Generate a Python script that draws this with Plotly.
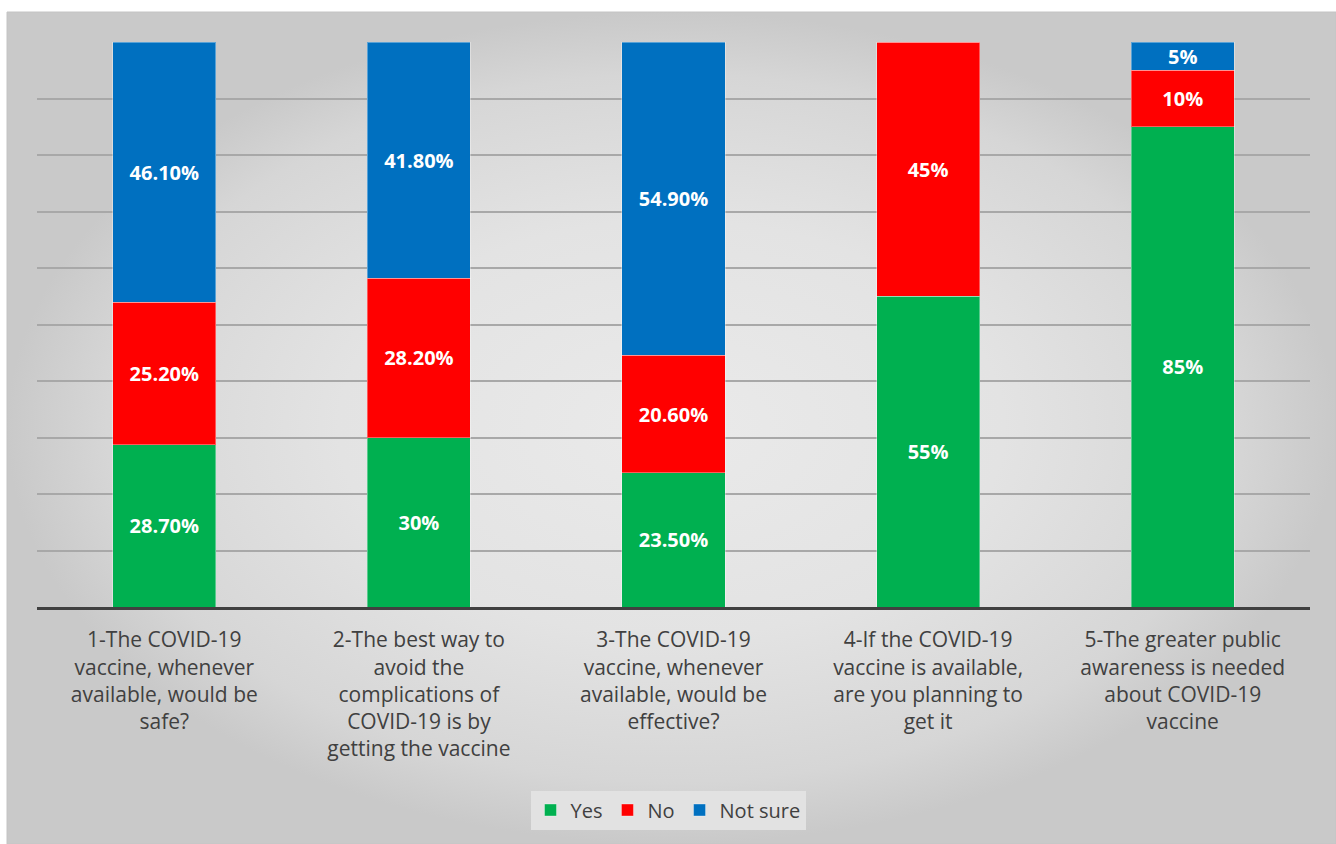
import plotly.graph_objects as go

categories = [
    "1-The COVID-19<br>vaccine, whenever<br>available, would be<br>safe?",
    "2-The best way to<br>avoid the<br>complications of<br>COVID-19 is by<br>getting the vaccine",
    "3-The COVID-19<br>vaccine, whenever<br>available, would be<br>effective?",
    "4-If the COVID-19<br>vaccine is available,<br>are you planning to<br>get it",
    "5-The greater public<br>awareness is needed<br>about COVID-19<br>vaccine",
]
yes_vals = [28.7, 30, 23.5, 55, 85]
no_vals = [25.2, 28.2, 20.6, 45, 10]
notsure_vals = [46.1, 41.8, 54.9, 0, 5]
yes_text = ["28.70%", "30%", "23.50%", "55%", "85%"]
no_text = ["25.20%", "28.20%", "20.60%", "45%", "10%"]
notsure_text = ["46.10%", "41.80%", "54.90%", "", "5%"]

W, H = 1336, 844
fig = go.Figure()

# background panel with radial gradient (full-page axes)
fig.add_trace(go.Scatter(
    x=[7, 1336, 1336, 7, 7], y=[12, 12, 844, 844, 12],
    mode="lines", fill="toself",
    line=dict(color="#c4c4c4", width=1),
    fillgradient=dict(type="radial", colorscale=[[0, "#eaeaea"], [0.5, "#e3e3e3"],
                                                 [0.85, "#d6d6d6"], [1, "#c9c9c9"]]),
    hoverinfo="skip", showlegend=False, xaxis="x", yaxis="y",
))

series = [
    ("Yes", yes_vals, yes_text, "#00b050"),
    ("No", no_vals, no_text, "#ff0000"),
    ("Not sure", notsure_vals, notsure_text, "#0070c0"),
]
for name, vals, txt, col in series:
    fig.add_trace(go.Bar(
        name=name, x=categories, y=vals, text=txt,
        textposition="inside", insidetextanchor="middle", constraintext="none",
        textfont=dict(family="Open Sans", size=20, color="white", weight="bold"),
        marker=dict(color=col, line=dict(color="rgba(255,255,255,0.35)", width=1)),
        xaxis="x2", yaxis="y2",
    ))

fig.update_layout(
    width=W, height=H,
    margin=dict(l=0, r=0, t=0, b=0),
    paper_bgcolor="white", plot_bgcolor="rgba(0,0,0,0)",
    barmode="stack", barnorm="percent", bargap=0.595,
    font=dict(family="Open Sans", color="#404040"),
    xaxis=dict(domain=[0, 1], range=[0, W], visible=False, fixedrange=True),
    yaxis=dict(domain=[0, 1], range=[H, 0], visible=False, fixedrange=True),
    xaxis2=dict(domain=[37 / W, 1310 / W], anchor="y2",
                showline=True, linecolor="#404040", linewidth=3,
                ticks="", tickfont=dict(size=21, color="#404040"),
                ticklabelstandoff=12, showgrid=False),
    yaxis2=dict(domain=[(H - 607) / H, (H - 42) / H], anchor="x2",
                range=[0, 100], dtick=10, showticklabels=False,
                showgrid=True, gridcolor="#a8a8a8", gridwidth=1.5, zeroline=False),
    legend=dict(orientation="h", x=0.5, xanchor="center", y=1 - 810 / H, yanchor="middle",
                bgcolor="#e2e2e2", font=dict(size=20, color="#404040"),
                itemwidth=30, traceorder="normal"),
)

fig.write_html("out.html")
